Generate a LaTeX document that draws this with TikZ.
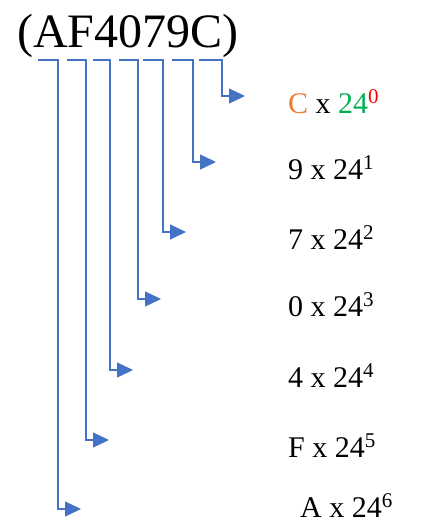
\documentclass[tikz,border=0pt]{standalone}
\usepackage{fontspec}
\setmainfont{Liberation Serif}
\usepackage{xcolor}
\usetikzlibrary{arrows.meta, positioning}
\definecolor{linkblue}{HTML}{4472C4}
\definecolor{digitorange}{HTML}{ED7D31}
\definecolor{basegreen}{HTML}{00B050}
\definecolor{powred}{HTML}{FF0000}

\begin{document}
\begin{tikzpicture}[x=1pt, y=-1pt, >={Triangle[length=16pt, width=15pt]},
    term/.style={anchor=base west, inner sep=0pt, font=\fontsize{30}{32}\selectfont},
    link/.style={->, draw=linkblue, line width=1.3pt}]
    \useasboundingbox (0,0) rectangle (432,525);
    % Nodes
    \node [anchor=base, inner sep=0pt, font=\fontsize{48}{50}\selectfont] (num) at (128,47) {(AF4079C)};

    \node [term] (t0) at (288,113) {\textcolor{digitorange}{C} x \textcolor{basegreen}{24}\textsuperscript{\textcolor{powred}{0}}};
    \node [term] (t1) at (288,179) {9 x 24\textsuperscript{1}};
    \node [term] (t2) at (288,249) {7 x 24\textsuperscript{2}};
    \node [term] (t3) at (288,316) {0 x 24\textsuperscript{3}};
    \node [term] (t4) at (288,387) {4 x 24\textsuperscript{4}};
    \node [term] (t5) at (288,457) {F x 24\textsuperscript{5}};
    \node [term] (t6) at (300,517) {A x 24\textsuperscript{6}};

    % Paths
    \foreach \xs/\xd/\y [count=\i from 0] in {199/222/96, 172/193/162, 143/163/232, 119/138/299, 93/110/370, 67/86/440, 38/58/509}{
        \coordinate (s\i) at (\xs,60);
        \coordinate (e\i) at (\xd+23,\y);
        \draw[link] (s\i) -- (\xd,60) |- (e\i);
    }
\end{tikzpicture}
\end{document}
